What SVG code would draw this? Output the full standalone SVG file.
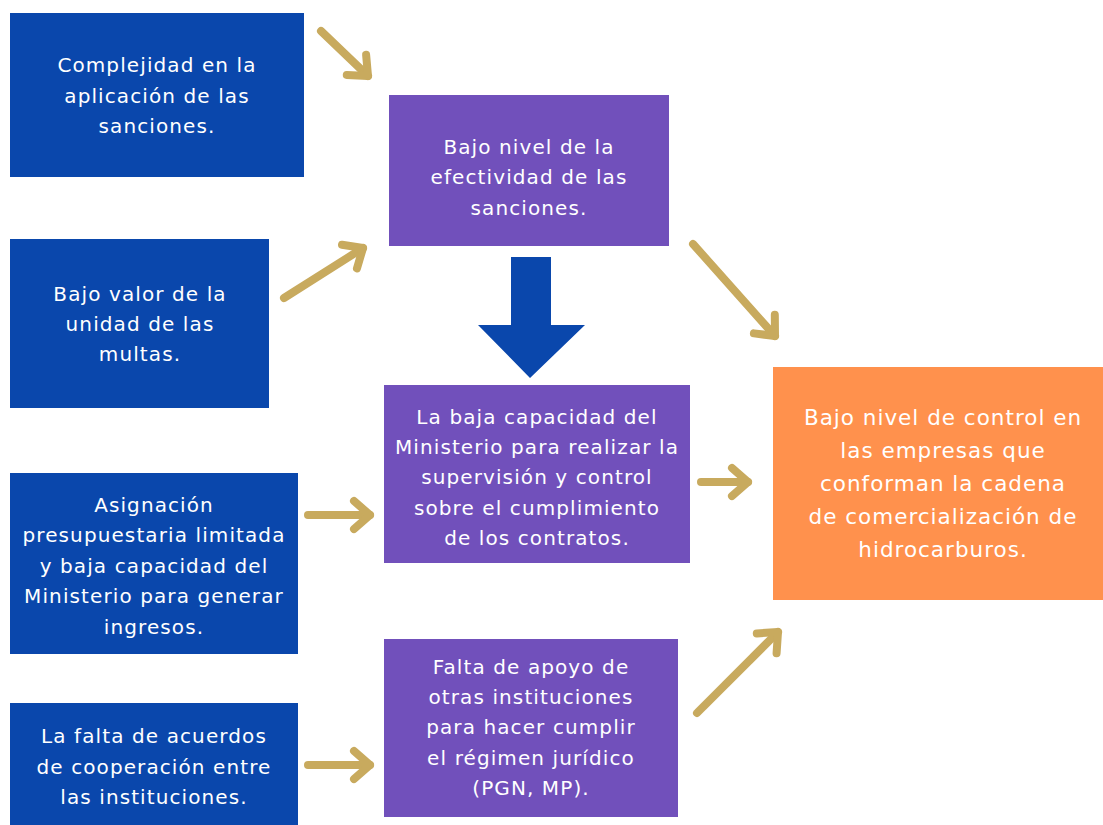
<svg xmlns="http://www.w3.org/2000/svg" width="1103" height="825" viewBox="0 0 1103 825">
<style>
.blue{fill:#0a47ac}
.purple{fill:#7150bb}
.orange{fill:#ff914d}
text{font-family:"DejaVu Sans","Open Sans",sans-serif;fill:#fff;text-anchor:middle;dominant-baseline:central}
.t{font-size:20px;letter-spacing:1.1px}
.to{font-size:21.5px;letter-spacing:1px}
.arr{stroke:#c8aa5e;stroke-width:8;stroke-linecap:round;fill:none}
</style>
<defs>
<marker id="head" markerUnits="userSpaceOnUse" refX="0" refY="0" markerWidth="40" markerHeight="40" orient="auto" overflow="visible">
<path d="M-16,-14 L0,0 L-16,14" fill="none" stroke="#c8aa5e" stroke-width="8" stroke-linecap="round" stroke-linejoin="round"/>
</marker>
</defs>
<rect width="1103" height="825" fill="#fff"/>
<g id="n1"><rect class="blue" x="10" y="13" width="294" height="164"/>
<text class="t" x="157" y="65">Complejidad en la</text><text class="t" x="157" y="96">aplicación de las</text><text class="t" x="157" y="126">sanciones.</text></g>
<g id="n2"><rect class="blue" x="10" y="239" width="259" height="169"/>
<text class="t" x="140" y="294">Bajo valor de la</text><text class="t" x="140" y="324">unidad de las</text><text class="t" x="140" y="354">multas.</text></g>
<g id="n3"><rect class="blue" x="10" y="473" width="288" height="181"/>
<text class="t" x="154" y="505">Asignación</text><text class="t" x="154" y="535">presupuestaria limitada</text><text class="t" x="154" y="566">y baja capacidad del</text><text class="t" x="154" y="596">Ministerio para generar</text><text class="t" x="154" y="627">ingresos.</text></g>
<g id="n4"><rect class="blue" x="10" y="703" width="288" height="122"/>
<text class="t" x="154" y="736">La falta de acuerdos</text><text class="t" x="154" y="767">de cooperación entre</text><text class="t" x="154" y="797">las instituciones.</text></g>
<g id="n5"><rect class="purple" x="389" y="95" width="280" height="151"/>
<text class="t" x="529" y="147">Bajo nivel de la</text><text class="t" x="529" y="177">efectividad de las</text><text class="t" x="529" y="208">sanciones.</text></g>
<g id="n6"><rect class="purple" x="384" y="385" width="306" height="178"/>
<text class="t" x="537" y="417">La baja capacidad del</text><text class="t" x="537" y="447">Ministerio para realizar la</text><text class="t" x="537" y="477">supervisión y control</text><text class="t" x="537" y="508">sobre el cumplimiento</text><text class="t" x="537" y="538">de los contratos.</text></g>
<g id="n7"><rect class="purple" x="384" y="639" width="294" height="178"/>
<text class="t" x="531" y="667">Falta de apoyo de</text><text class="t" x="531" y="697">otras instituciones</text><text class="t" x="531" y="727">para hacer cumplir</text><text class="t" x="531" y="758">el régimen jurídico</text><text class="t" x="531" y="788">(PGN, MP).</text></g>
<g id="n8"><rect class="orange" x="773" y="367" width="330" height="233"/>
<text class="to" x="943" y="417">Bajo nivel de control en</text><text class="to" x="943" y="450">las empresas que</text><text class="to" x="943" y="483">conforman la cadena</text><text class="to" x="943" y="516">de comercialización de</text><text class="to" x="943" y="549">hidrocarburos.</text></g>
<g id="connectors">
<path d="M511,257 H551 V325 H585 L530,378 L478,325 H511 Z" fill="#0a47ac"/>
<path class="arr" marker-end="url(#head)" d="M321,31 L368,76"/>
<path class="arr" marker-end="url(#head)" d="M284,298 L363,248"/>
<path class="arr" marker-end="url(#head)" d="M693,244 L775,336"/>
<path class="arr" marker-end="url(#head)" d="M701,482 L748,482"/>
<path class="arr" marker-end="url(#head)" d="M308,515 L370,515"/>
<path class="arr" marker-end="url(#head)" d="M308,765 L370,765"/>
<path class="arr" marker-end="url(#head)" d="M697,713 L778,632"/>
</g>
</svg>
